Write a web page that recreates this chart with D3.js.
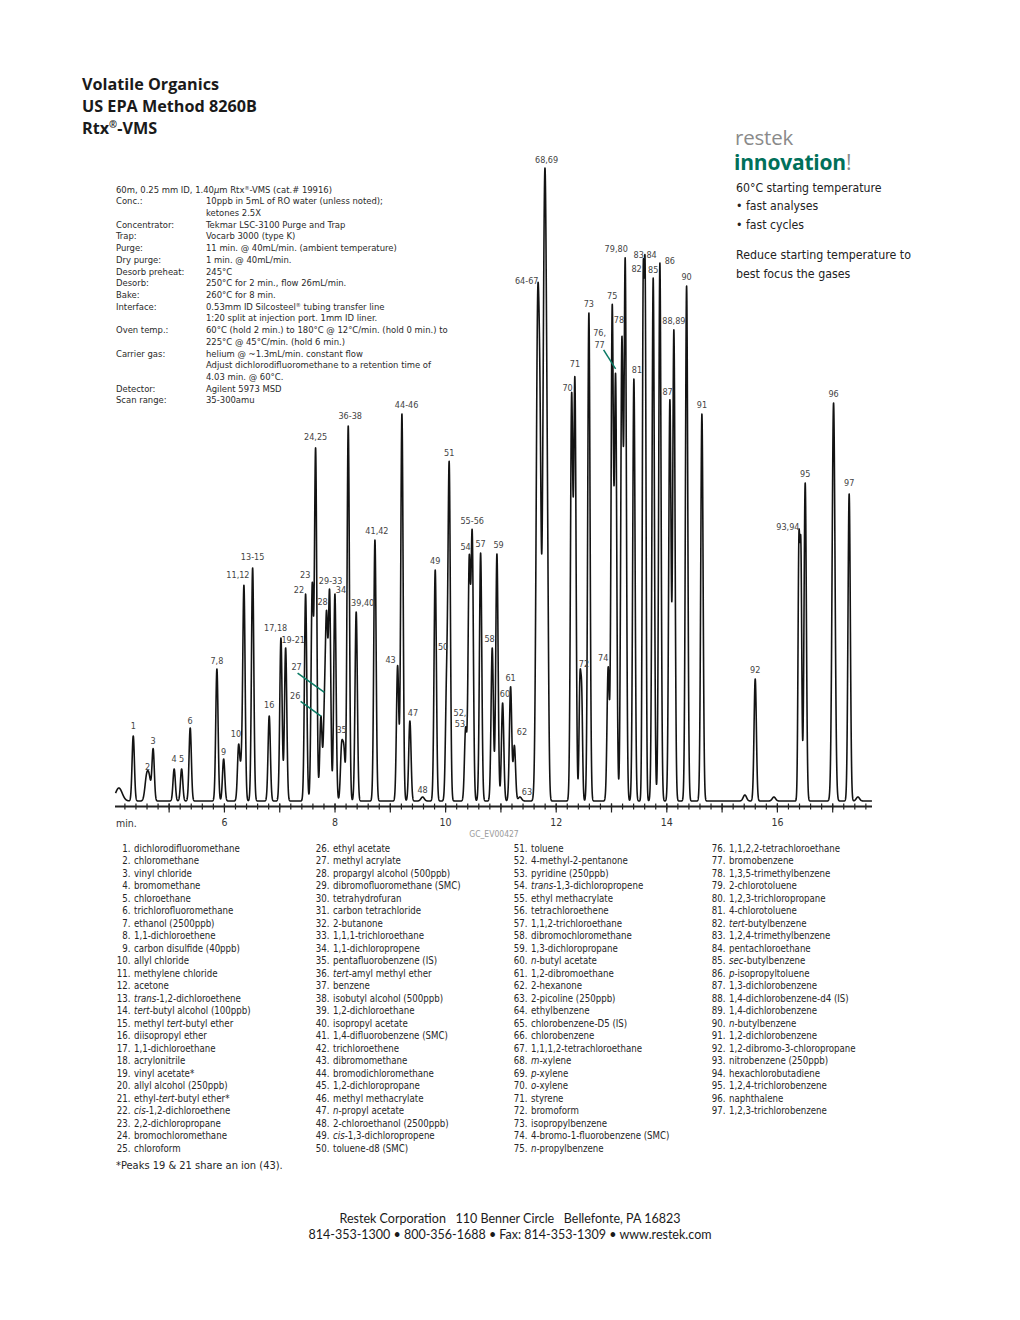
<!DOCTYPE html>
<html>
<head>
<meta charset="utf-8">
<script src="https://cdn.jsdelivr.net/npm/d3@7/dist/d3.min.js"></script>
<style>
  body { margin: 0; background: #fff; }
  svg { display: block; }
  .narrow { font-family: "Liberation Sans Narrow", "DejaVu Sans Condensed", "Roboto", sans-serif; }
</style>
</head>
<body>
<svg id="chart" width="1020" height="1320"></svg>
<script>
// ---- text content ----
const titleLines = ["Volatile Organics", "US EPA Method 8260B", "Rtx®-VMS"];

const columnLine = "60m, 0.25 mm ID, 1.40_µ_m Rtx®-VMS (cat.# 19916)";
const condLabels = ["Conc.:", "", "Concentrator:", "Trap:", "Purge:", "Dry purge:", "Desorb preheat:",
  "Desorb:", "Bake:", "Interface:", "", "Oven temp.:", "", "Carrier gas:", "", "", "Detector:", "Scan range:"];
const condValues = [
  "10ppb in 5mL of RO water (unless noted);",
  "ketones 2.5X",
  "Tekmar LSC-3100 Purge and Trap",
  "Vocarb 3000 (type K)",
  "11 min. @ 40mL/min. (ambient temperature)",
  "1 min. @ 40mL/min.",
  "245°C",
  "250°C for 2 min., flow 26mL/min.",
  "260°C for 8 min.",
  "0.53mm ID Silcosteel® tubing transfer line",
  "1:20 split at injection port. 1mm ID liner.",
  "60°C (hold 2 min.) to 180°C @ 12°C/min. (hold 0 min.) to",
  "225°C @ 45°C/min. (hold 6 min.)",
  "helium @ ~1.3mL/min. constant flow",
  "Adjust dichlorodifluoromethane to a retention time of",
  "4.03 min. @ 60°C.",
  "Agilent 5973 MSD",
  "35-300amu"
];

const sideLines = ["60°C starting temperature", "• fast analyses", "• fast cycles"];
const sideNote = ["Reduce starting temperature to", "best focus the gases"];

const compounds = [
  "dichlorodifluoromethane", "chloromethane", "vinyl chloride", "bromomethane", "chloroethane",
  "trichlorofluoromethane", "ethanol (2500ppb)", "1,1-dichloroethene", "carbon disulfide (40ppb)", "allyl chloride",
  "methylene chloride", "acetone", "_trans_-1,2-dichloroethene", "_tert_-butyl alcohol (100ppb)", "methyl _tert_-butyl ether",
  "diisopropyl ether", "1,1-dichloroethane", "acrylonitrile", "vinyl acetate*", "allyl alcohol (250ppb)",
  "ethyl-_tert_-butyl ether*", "_cis_-1,2-dichloroethene", "2,2-dichloropropane", "bromochloromethane", "chloroform",
  "ethyl acetate", "methyl acrylate", "propargyl alcohol (500ppb)", "dibromofluoromethane (SMC)", "tetrahydrofuran",
  "carbon tetrachloride", "2-butanone", "1,1,1-trichloroethane", "1,1-dichloropropene", "pentafluorobenzene (IS)",
  "_tert_-amyl methyl ether", "benzene", "isobutyl alcohol (500ppb)", "1,2-dichloroethane", "isopropyl acetate",
  "1,4-difluorobenzene (SMC)", "trichloroethene", "dibromomethane", "bromodichloromethane", "1,2-dichloropropane",
  "methyl methacrylate", "_n_-propyl acetate", "2-chloroethanol (2500ppb)", "_cis_-1,3-dichloropropene", "toluene-d8 (SMC)",
  "toluene", "4-methyl-2-pentanone", "pyridine (250ppb)", "_trans_-1,3-dichloropropene", "ethyl methacrylate",
  "tetrachloroethene", "1,1,2-trichloroethane", "dibromochloromethane", "1,3-dichloropropane", "_n_-butyl acetate",
  "1,2-dibromoethane", "2-hexanone", "2-picoline (250ppb)", "ethylbenzene", "chlorobenzene-D5 (IS)",
  "chlorobenzene", "1,1,1,2-tetrachloroethane", "_m_-xylene", "_p_-xylene", "_o_-xylene",
  "styrene", "bromoform", "isopropylbenzene", "4-bromo-1-fluorobenzene (SMC)", "_n_-propylbenzene",
  "1,1,2,2-tetrachloroethane", "bromobenzene", "1,3,5-trimethylbenzene", "2-chlorotoluene", "1,2,3-trichloropropane",
  "4-chlorotoluene", "_tert_-butylbenzene", "1,2,4-trimethylbenzene", "pentachloroethane", "_sec_-butylbenzene",
  "_p_-isopropyltoluene", "1,3-dichlorobenzene", "1,4-dichlorobenzene-d4 (IS)", "1,4-dichlorobenzene", "_n_-butylbenzene",
  "1,2-dichlorobenzene", "1,2-dibromo-3-chloropropane", "nitrobenzene (250ppb)", "hexachlorobutadiene", "1,2,4-trichlorobenzene",
  "naphthalene", "1,2,3-trichlorobenzene"
];
const footnote = "*Peaks 19 & 21 share an ion (43).";
const footerLines = ["Restek Corporation   110 Benner Circle   Bellefonte, PA 16823",
  "814-353-1300 • 800-356-1688 • Fax: 814-353-1309 • www.restek.com"];

// ---- chromatogram data: retention time (min), peak height (abundance), label ----
const peakTimes = [4.10, 4.36, 4.60, 4.65, 4.72, 5.10, 5.235, 5.39, 5.873, 5.995,
  6.266, 6.316, 6.362, 6.519, 6.819, 7.031, 7.116, 7.477, 7.597, 7.658,
  7.754, 7.817, 7.857, 7.911, 8.007, 8.128, 8.170, 8.248, 8.392, 8.731,
  9.141, 9.219, 9.363, 9.593, 9.821, 10.027, 10.074, 10.371, 10.436, 10.490,
  10.642, 10.852, 10.937, 11.040, 11.184, 11.253, 11.353, 11.675, 11.720, 11.775,
  11.810, 11.850, 12.288, 12.347, 12.438, 12.470, 12.600, 12.949, 13.022, 13.083,
  13.197, 13.257, 13.414, 13.582, 13.618, 13.763, 13.884, 14.065, 14.137, 14.367,
  14.644, 15.421, 15.608, 15.946, 16.398, 16.434, 16.512, 17.025, 17.307, 17.465];
const peakHeights = [13, 65, 22, 21, 51, 32, 32, 73, 132, 42,
  55, 30, 213, 233, 85, 163, 153, 207, 213, 350,
  84, 80, 170, 205, 207, 52, 48, 375, 189, 261,
  135, 387, 80, 4, 231, 110, 330, 72, 235, 262,
  248, 153, 247, 98, 114, 55, 4, 485, 250, 250,
  534, 200, 400, 416, 113, 100, 488, 133, 490, 420,
  455, 535, 422, 490, 495, 523, 538, 400, 470, 515,
  387, 6, 122, 4, 247, 240, 318, 398, 307, 4];
const peakLabels = ["", "1", "2", "", "3", "4", "5", "6", "7,8", "9",
  "10", "", "11,12", "13-15", "16", "17,18", "19-21", "22", "23", "24,25",
  "26", "27", "28", "29-33", "34", "35", "", "36-38", "39,40", "41,42",
  "43", "44-46", "47", "48", "49", "50", "51", "52,\n53", "54", "55-56",
  "57", "58", "59", "60", "61", "62", "63", "64-67", "", "",
  "68,69", "", "70", "71", "72", "", "73", "74", "75", "76,\n77",
  "78", "79,80", "81", "82", "83,84", "85", "86", "87", "88,89", "90",
  "91", "", "92", "", "93,94", "", "95", "96", "97", ""];
// peak widths (sigma, min) where they differ from the common one
const defaultSigma = 0.021;
const peakSigma = { 0: 0.06, 2: 0.03, 3: 0.03, 33: 0.03, 46: 0.03, 47: 0.028, 50: 0.024,
  54: 0.016, 55: 0.016, 63: 0.016, 64: 0.016, 71: 0.03, 73: 0.03, 74: 0.016, 75: 0.016, 77: 0.026, 79: 0.03 };

const minorTicks = d3.range(4.2, 17.7, 0.2);
const majorTicks = [5, 6, 7, 8, 9, 10, 11, 12, 13, 14, 15, 16, 17];
const tickLabels = [6, 8, 10, 12, 14, 16];

// label nudges in px [dx, dy] and leader lines [x1,y1,x2,y2] relative to the apex
const labelNudge = {
  "1": [0, -1], "2": [1, 2], "3": [0, 1], "4": [0, -1], "5": [0, -1], "6": [0, 2], "7,8": [0, 1], "9": [0, 2],
  "10": [-2.7, -1], "11,12": [-6, -1], "13-15": [0, -2], "16": [0, -2], "17,18": [-5.3, -1], "19-21": [7.6, 1],
  "22": [-6.7, 5], "23": [-7, 1], "24,25": [0, -2], "26": [-25.7, -11.5], "27": [-27.8, -16.5],
  "28": [-4, 1], "29-33": [1, 0], "34": [6, 5], "35": [0, -4], "36-38": [2, -1], "39,40": [6.5, 0],
  "41,42": [2, 0], "43": [-7, 3], "44-46": [4.7, 0], "47": [3, 1], "48": [0, 2], "50": [-3.5, -8],
  "52,\n53": [-5.7, -5.5], "54": [-3.6, 0], "58": [-2.6, 0], "59": [1.7, 0], "60": [2.3, 0],
  "62": [7.5, -4], "63": [7, 4], "64-67": [-11, -1], "68,69": [1.4, -3], "70": [-4, 4], "71": [0, -4],
  "72": [4, -1], "74": [-5, 0], "76,\n77": [-16, -31.8], "78": [-3, -8], "79,80": [-9, 0], "81": [3, 0],
  "82": [-6.6, 6], "83,84": [0, -3], "85": [0, 1], "86": [10, 7], "87": [-2.3, 1], "93,94": [-11, 1], "97": [0, -2]
};
const leaders = {
  "26": [-20.3, -14.7, 0, 0],
  "27": [-26.8, -19.3, 0, 0],
  "76,\n77": [-12, -24, 0, -5]
};

// ---- helpers ----
function rich(textSel, str) {
  str.split(/(_[^_]+_|®)/).filter(p => p).forEach(p => {
    const ts = textSel.append("tspan");
    if (p === "®") {
      ts.attr("font-size", "60%").attr("baseline-shift", "super").text("®");
    } else if (p[0] === "_" && p.length > 2) {
      ts.attr("font-style", "italic").text(p.slice(1, -1));
    } else {
      ts.text(p);
    }
  });
}

const svg = d3.select("#chart");
svg.append("rect").attr("width", 1020).attr("height", 1320).attr("fill", "#fff");

// ---- title ----
const titleG = svg.append("g")
  .attr("font-family", "'Open Sans', sans-serif")
  .attr("font-weight", 700)
  .attr("font-size", 16.2)
  .attr("fill", "#1a1a1a");
titleLines.forEach((t, i) => {
  rich(titleG.append("text").attr("x", 82).attr("y", 90 + i * 22), t);
});

// ---- conditions ----
const condG = svg.append("g").attr("class", "narrow").attr("font-size", 9.4).attr("fill", "#2a2a2a");
rich(condG.append("text").attr("x", 116).attr("y", 192.5), columnLine);
condValues.forEach((v, i) => {
  const yy = 192.5 + (i + 1) * 11.72;
  condG.append("text").attr("x", 116).attr("y", yy).text(condLabels[i]);
  rich(condG.append("text").attr("x", 206).attr("y", yy), v);
});

// ---- side panel ----
const sideG = svg.append("g").attr("class", "narrow").attr("fill", "#222");
sideG.append("text").attr("x", 735).attr("y", 144.5)
  .attr("font-family", "'Open Sans', sans-serif").attr("font-size", 20.5).attr("fill", "#8a8a8a")
  .attr("letter-spacing", -0.2).text("restek");
const inno = sideG.append("text").attr("x", 734).attr("y", 170)
  .attr("font-family", "'Open Sans', sans-serif").attr("font-size", 21).attr("letter-spacing", -0.2);
inno.append("tspan").attr("font-weight", 700).attr("fill", "#00705a").text("innovation");
inno.append("tspan").attr("fill", "#8a8a8a").text("!");
sideLines.forEach((t, i) => {
  sideG.append("text").attr("x", 736).attr("y", 191.5 + i * 18.5).attr("font-size", 12.2).text(t);
});
sideNote.forEach((t, i) => {
  sideG.append("text").attr("x", 736).attr("y", 259 + i * 19).attr("font-size", 12.3).text(t);
});

// ---- chromatogram ----
const x = d3.scaleLinear().domain([4.03, 17.72]).range([115, 872]);
const y = d3.scaleLinear().domain([0, 640]).range([801, 161]);

const sig = i => peakSigma[i] || defaultSigma;
const gauss = (dt, s) => Math.exp(-dt * dt / (2 * s * s));
function signal(t) {
  let s = 0;
  for (let j = 0; j < peakTimes.length; j++) {
    const dt = t - peakTimes[j];
    if (Math.abs(dt) < 0.3) s += peakHeights[j] * gauss(dt, sig(j));
  }
  return s;
}
const samples = d3.range(4.04, 17.72, 0.0015).map(t => [t, signal(t)]);

const chartG = svg.append("g");
chartG.append("path")
  .datum(samples)
  .attr("fill", "none")
  .attr("stroke", "#131313")
  .attr("stroke-width", 1.6)
  .attr("stroke-linejoin", "round")
  .attr("d", d3.line().x(d => x(d[0])).y(d => y(d[1])));

// axis
const axisY = 806.5;
chartG.append("line").attr("x1", 115).attr("x2", 872).attr("y1", axisY).attr("y2", axisY)
  .attr("stroke", "#222").attr("stroke-width", 1.8);
const minorG = chartG.append("g").attr("transform", `translate(0,${axisY - 3})`)
  .call(d3.axisBottom(x).tickValues(minorTicks).tickSize(6).tickFormat(""));
minorG.select(".domain").remove();
minorG.selectAll("line").attr("stroke", "#222").attr("stroke-width", 1.2);
const majorG = chartG.append("g").attr("transform", `translate(0,${axisY - 3})`)
  .call(d3.axisBottom(x).tickValues(majorTicks).tickSize(9).tickFormat(""));
majorG.select(".domain").remove();
majorG.selectAll("line").attr("stroke", "#222").attr("stroke-width", 1.2);
const labG = chartG.append("g").attr("transform", `translate(0,${axisY})`)
  .call(d3.axisBottom(x).tickValues(tickLabels).tickSize(0).tickPadding(12.5));
labG.select(".domain").remove();
labG.attr("font-family", null).attr("font-size", null);
labG.selectAll("text").attr("class", "narrow").attr("font-size", 10.5).attr("fill", "#333");
chartG.append("text").attr("class", "narrow").attr("x", 116).attr("y", 827)
  .attr("font-size", 10.5).attr("fill", "#333").text("min.");
chartG.append("text").attr("class", "narrow").attr("x", 494).attr("y", 837)
  .attr("text-anchor", "middle").attr("font-size", 8.5).attr("fill", "#9a9a9a").text("GC_EV00427");

// peak labels, placed at the apex of the drawn trace
const labelG = chartG.append("g").attr("class", "narrow").attr("font-size", 9).attr("fill", "#444")
  .attr("text-anchor", "middle");
peakLabels.forEach((lab, i) => {
  if (!lab) return;
  const px = x(peakTimes[i]), py = y(signal(peakTimes[i]));
  const [dx, dy] = labelNudge[lab] || [0, 0];
  const t = labelG.append("text").attr("x", px + dx).attr("y", py - 6 + dy);
  lab.split("\n").forEach((ln, k) => {
    t.append("tspan").attr("x", px + dx).attr("dy", k === 0 ? 0 : 11.7).text(ln);
  });
  if (leaders[lab]) {
    const [x1, y1, x2, y2] = leaders[lab];
    chartG.append("line")
      .attr("x1", px + x1).attr("y1", py + y1).attr("x2", px + x2).attr("y2", py + y2)
      .attr("stroke", "#0a7a64").attr("stroke-width", 1.5);
  }
});

// ---- compound list ----
const legG = svg.append("g").attr("class", "narrow").attr("font-size", 9.6).attr("fill", "#262626");
const colX = [134, 333, 531, 729];
compounds.forEach((name, i) => {
  const col = Math.floor(i / 25), row = i % 25;
  const yy = 851.5 + row * 12.5;
  legG.append("text").attr("x", colX[col] - 3.5).attr("y", yy).attr("text-anchor", "end").text((i + 1) + ".");
  rich(legG.append("text").attr("x", colX[col]).attr("y", yy), name);
});
svg.append("text").attr("class", "narrow").attr("x", 116).attr("y", 1169)
  .attr("font-size", 11).attr("fill", "#262626").text(footnote);

// ---- footer ----
footerLines.forEach((t, i) => {
  svg.append("text").attr("x", 510).attr("y", 1223 + i * 16)
    .attr("text-anchor", "middle").attr("font-family", "Lato, sans-serif").attr("font-size", 12.5)
    .attr("fill", "#1a1a1a").style("white-space", "pre").text(t);
});
</script>
</body>
</html>
